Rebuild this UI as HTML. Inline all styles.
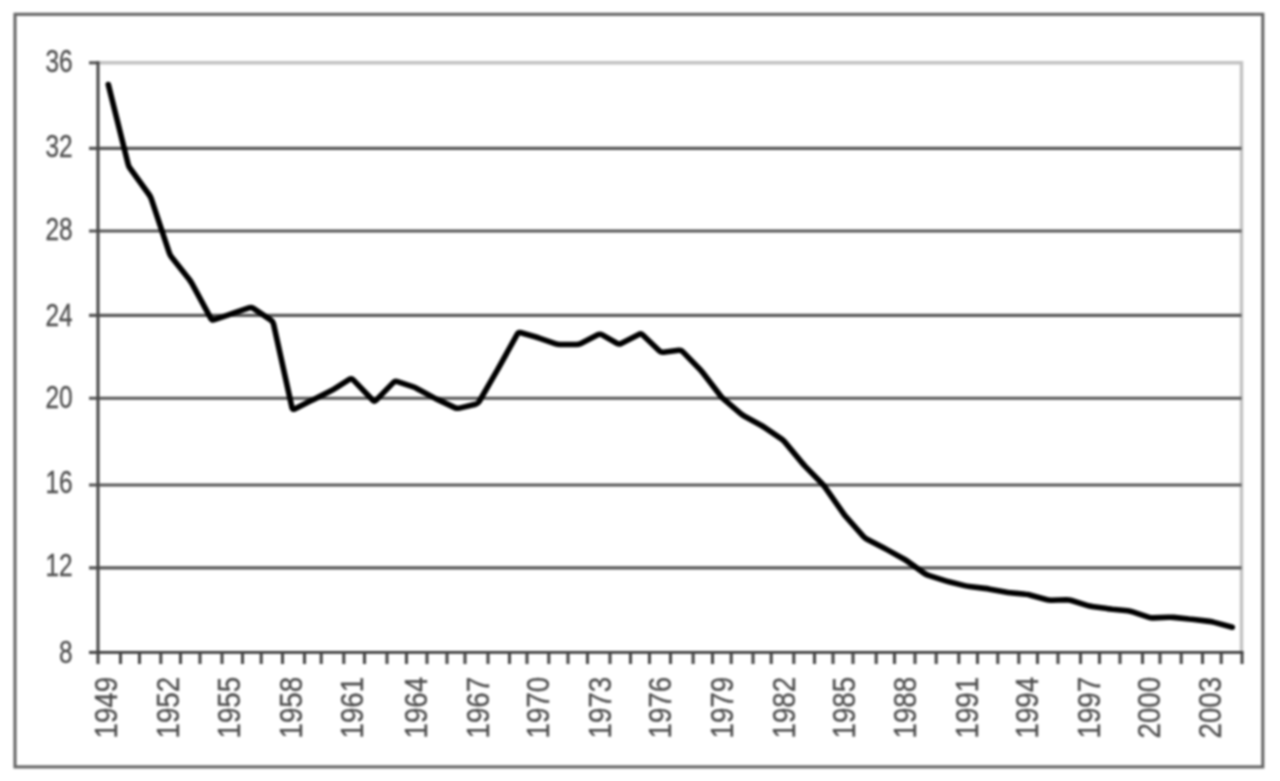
<!DOCTYPE html>
<html><head><meta charset="utf-8"><title>Chart</title>
<style>
html,body{margin:0;padding:0;background:#fff;}
body{width:1280px;height:781px;overflow:hidden;font-family:"Liberation Sans",sans-serif;}
svg{display:block;filter:blur(1.1px);}
text{font-family:"Liberation Sans",sans-serif;fill:#4e4e4e;stroke:#4e4e4e;stroke-width:0.35px;}
</style></head><body>
<svg width="1280" height="781" viewBox="0 0 1280 781">
<rect x="0" y="0" width="1280" height="781" fill="#ffffff"/>
<rect x="15" y="14.3" width="1247.8" height="752.6" fill="none" stroke="#666666" stroke-width="3.1"/>
<path d="M98.0 62.8 H1241.5 V652.4" fill="none" stroke="#c2c2c2" stroke-width="3.5"/>
<line x1="89.0" y1="148.4" x2="1241.5" y2="148.4" stroke="#565656" stroke-width="3.1"/>
<line x1="89.0" y1="231.0" x2="1241.5" y2="231.0" stroke="#565656" stroke-width="3.1"/>
<line x1="89.0" y1="315.4" x2="1241.5" y2="315.4" stroke="#565656" stroke-width="3.1"/>
<line x1="89.0" y1="398.2" x2="1241.5" y2="398.2" stroke="#565656" stroke-width="3.1"/>
<line x1="89.0" y1="485.0" x2="1241.5" y2="485.0" stroke="#565656" stroke-width="3.1"/>
<line x1="89.0" y1="567.9" x2="1241.5" y2="567.9" stroke="#565656" stroke-width="3.1"/>
<line x1="89.0" y1="62.8" x2="98.0" y2="62.8" stroke="#565656" stroke-width="3.1"/>
<line x1="89.0" y1="652.4" x2="98.0" y2="652.4" stroke="#484848" stroke-width="3.1"/>
<line x1="98.0" y1="61.3" x2="98.0" y2="653.9" stroke="#484848" stroke-width="3.1"/>
<line x1="98.0" y1="652.4" x2="1243.5" y2="652.4" stroke="#383838" stroke-width="2.9"/>
<path d="M98.0 652.4V663.9M120.5 652.4V663.9M139.5 652.4V663.9M160.8 652.4V663.9M180.5 652.4V663.9M200.0 652.4V663.9M222.0 652.4V663.9M242.5 652.4V663.9M261.2 652.4V663.9M282.5 652.4V663.9M304.5 652.4V663.9M321.2 652.4V663.9M343.8 652.4V663.9M364.5 652.4V663.9M387.0 652.4V663.9M406.5 652.4V663.9M427.0 652.4V663.9M447.0 652.4V663.9M465.0 652.4V663.9M488.0 652.4V663.9M509.5 652.4V663.9M527.0 652.4V663.9M548.8 652.4V663.9M568.0 652.4V663.9M587.5 652.4V663.9M610.0 652.4V663.9M630.5 652.4V663.9M649.5 652.4V663.9M670.5 652.4V663.9M693.1 652.4V663.9M712.5 652.4V663.9M731.2 652.4V663.9M753.0 652.4V663.9M771.2 652.4V663.9M793.8 652.4V663.9M814.5 652.4V663.9M833.0 652.4V663.9M853.0 652.4V663.9M876.2 652.4V663.9M894.5 652.4V663.9M915.0 652.4V663.9M936.2 652.4V663.9M958.8 652.4V663.9M977.5 652.4V663.9M997.8 652.4V663.9M1018.8 652.4V663.9M1037.5 652.4V663.9M1058.0 652.4V663.9M1080.5 652.4V663.9M1099.5 652.4V663.9M1120.0 652.4V663.9M1142.5 652.4V663.9M1160.0 652.4V663.9M1181.2 652.4V663.9M1202.5 652.4V663.9M1221.2 652.4V663.9M1242.0 652.4V663.9" stroke="#484848" stroke-width="3.1" fill="none"/>
<text transform="translate(72.7 72.0) scale(0.764 1)" font-size="32" text-anchor="end">36</text>
<text transform="translate(72.7 157.1) scale(0.764 1)" font-size="32" text-anchor="end">32</text>
<text transform="translate(72.7 239.9) scale(0.764 1)" font-size="32" text-anchor="end">28</text>
<text transform="translate(72.7 325.6) scale(0.764 1)" font-size="32" text-anchor="end">24</text>
<text transform="translate(72.7 408.4) scale(0.764 1)" font-size="32" text-anchor="end">20</text>
<text transform="translate(72.7 493.2) scale(0.764 1)" font-size="32" text-anchor="end">16</text>
<text transform="translate(72.7 576.0) scale(0.764 1)" font-size="32" text-anchor="end">12</text>
<text transform="translate(72.7 663.4) scale(0.764 1)" font-size="32" text-anchor="end">8</text>
<text transform="translate(117.1 738.5) rotate(-90) scale(0.885 1)" font-size="31.3">1949</text>
<text transform="translate(179.2 738.5) rotate(-90) scale(0.885 1)" font-size="31.3">1952</text>
<text transform="translate(240.2 738.5) rotate(-90) scale(0.885 1)" font-size="31.3">1955</text>
<text transform="translate(301.6 738.5) rotate(-90) scale(0.885 1)" font-size="31.3">1958</text>
<text transform="translate(362.7 738.5) rotate(-90) scale(0.885 1)" font-size="31.3">1961</text>
<text transform="translate(427.4 738.5) rotate(-90) scale(0.885 1)" font-size="31.3">1964</text>
<text transform="translate(488.9 738.5) rotate(-90) scale(0.885 1)" font-size="31.3">1967</text>
<text transform="translate(549.0 738.5) rotate(-90) scale(0.885 1)" font-size="31.3">1970</text>
<text transform="translate(611.2 738.5) rotate(-90) scale(0.885 1)" font-size="31.3">1973</text>
<text transform="translate(671.2 738.5) rotate(-90) scale(0.885 1)" font-size="31.3">1976</text>
<text transform="translate(733.0 738.5) rotate(-90) scale(0.885 1)" font-size="31.3">1979</text>
<text transform="translate(794.5 738.5) rotate(-90) scale(0.885 1)" font-size="31.3">1982</text>
<text transform="translate(854.7 738.5) rotate(-90) scale(0.885 1)" font-size="31.3">1985</text>
<text transform="translate(916.2 738.5) rotate(-90) scale(0.885 1)" font-size="31.3">1988</text>
<text transform="translate(978.0 738.5) rotate(-90) scale(0.885 1)" font-size="31.3">1991</text>
<text transform="translate(1038.3 738.5) rotate(-90) scale(0.885 1)" font-size="31.3">1994</text>
<text transform="translate(1099.7 738.5) rotate(-90) scale(0.885 1)" font-size="31.3">1997</text>
<text transform="translate(1160.0 738.5) rotate(-90) scale(0.885 1)" font-size="31.3">2000</text>
<text transform="translate(1221.2 738.5) rotate(-90) scale(0.885 1)" font-size="31.3">2003</text>
<path d="M108.3 84.5 L128.1 164.1 Q128.7 166.5 130.2 168.5 L149.0 194.5 Q150.5 196.5 151.3 198.9 L169.2 252.6 Q170 255 171.5 257.0 L189.3 279.5 Q190.8 281.5 192.0 283.7 L210.8 318.3 Q212 320.5 214.4 319.7 L228.6 314.8 Q231 314 233.4 313.2 L248.9 307.8 Q251.3 307 253.4 308.4 L270.9 320.1 Q273 321.5 273.5 323.9 L292.0 407.6 Q292.5 410 294.7 408.9 L310.3 401.1 Q312.5 400 314.7 398.9 L330.5 391.1 Q332.7 390 334.8 388.7 L349.4 379.3 Q351.5 378 353.2 379.8 L372.8 400.2 Q374.5 402 376.2 400.2 L393.3 382.6 Q395 380.8 397.4 381.6 L412.6 386.7 Q415 387.5 417.2 388.7 L432.8 397.1 Q435 398.3 437.3 399.4 L454.7 407.6 Q457 408.7 459.4 408.1 L475.6 404.3 Q478 403.7 479.2 401.5 L497.3 370.2 Q498.5 368 499.7 365.8 L517.3 334.2 Q518.5 332 520.9 332.7 L535.1 336.8 Q537.5 337.5 539.9 338.3 L555.1 343.7 Q557.5 344.5 560.0 344.5 L576.2 344.5 Q578.7 344.5 580.9 343.4 L597.8 334.8 Q600 333.7 602.2 334.9 L616.8 343.3 Q619 344.5 621.2 343.4 L638.8 334.4 Q641 333.3 642.8 335.0 L659.2 350.8 Q661 352.5 663.5 352.2 L678.7 350.3 Q681.2 350 682.9 351.8 L699.8 369.2 Q701.5 371 703.0 373.0 L720.3 395.5 Q721.8 397.5 723.7 399.1 L740.4 413.4 Q742.3 415 744.5 416.2 L760.5 425.0 Q762.7 426.2 764.8 427.6 L781.0 438.6 Q783.1 440 784.7 441.9 L801.9 462.6 Q803.5 464.5 805.2 466.3 L822.2 483.7 Q823.9 485.5 825.3 487.6 L843.0 512.9 Q844.4 515 846.1 516.9 L863.1 536.1 Q864.8 538 867.0 539.2 L883.0 547.5 Q885.2 548.7 887.4 549.9 L903.4 558.8 Q905.6 560 907.6 561.4 L924.0 573.1 Q926 574.5 928.4 575.3 L944.1 580.4 Q946.5 581.2 948.9 581.8 L964.5 585.6 Q966.9 586.2 969.4 586.5 L984.8 588.4 Q987.3 588.7 989.8 589.2 L1005.2 592.0 Q1007.7 592.5 1010.2 592.7 L1025.6 594.3 Q1028.1 594.5 1030.5 595.2 L1046.2 599.5 Q1048.6 600.2 1051.1 600.2 L1066.5 599.8 Q1069 599.8 1071.4 600.5 L1087.0 605.4 Q1089.4 606.1 1091.9 606.4 L1107.3 608.6 Q1109.8 608.9 1112.3 609.2 L1127.7 610.7 Q1130.2 611 1132.6 611.8 L1148.3 617.2 Q1150.7 618 1153.2 617.9 L1168.6 617.3 Q1171.1 617.2 1173.6 617.4 L1189.0 619.0 Q1191.5 619.2 1194.0 619.5 L1209.4 621.4 Q1211.9 621.7 1214.3 622.4 L1232.3 627.2" fill="none" stroke="#000" stroke-width="5.6" stroke-linejoin="round" stroke-linecap="round"/>
</svg></body></html>
